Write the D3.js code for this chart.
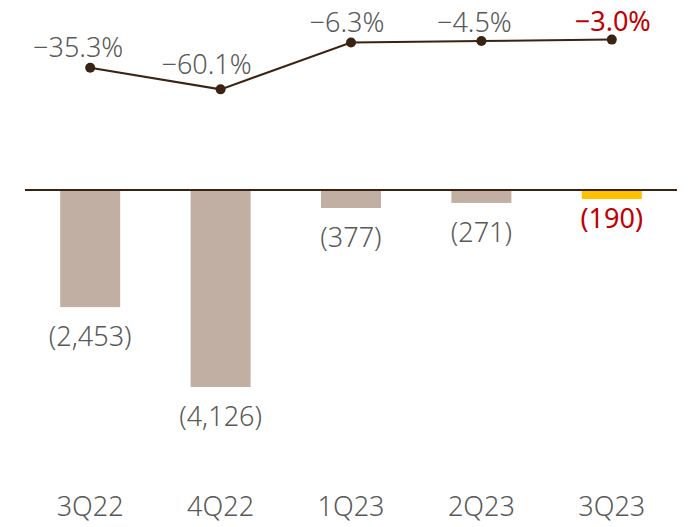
<!DOCTYPE html>
<html>
<head>
<meta charset="utf-8">
<script src="https://cdn.jsdelivr.net/npm/d3@7"></script>
<style>
  body { margin: 0; background: white; }
  text { font-family: "Noto Sans", sans-serif; font-weight: 300; }
  text.red { font-weight: 400; }
</style>
</head>
<body>
<div id="chart"></div>
<script>

// data
const quarters = ["3Q22", "4Q22", "1Q23", "2Q23", "3Q23"];
const lossValues = [-2453, -4126, -377, -271, -190];
const marginPct = [-35.3, -60.1, -6.3, -4.5, -3.0];
const lossLabels = ["(2,453)", "(4,126)", "(377)", "(271)", "(190)"];
const pctLabels = ["\u221235.3%", "\u221260.1%", "\u22126.3%", "\u22124.5%", "\u22123.0%"];

const width = 692;
const height = 527;

// small nudges for the percentage labels, as placed in the original
const pctDx = [-12, -14, -4, -7, 1];
const pctDy = [-11, -15, -10, -9, -9];

const svg = d3.select("#chart")
    .append("svg")
    .attr("width", width)
    .attr("height", height)
    .style("background-color", "white");

const x = d3.scaleBand()
    .domain(quarters)
    .range([25, 677])
    .paddingInner(0.54)
    .paddingOuter(0.27);

// bars hang down from the zero line
const yBar = d3.scaleLinear()
    .domain([-4126, 0])
    .range([387, 190]);

const yLine = d3.scaleLinear()
    .domain([-100, 0])
    .range([124.1, 37]);

const gray = "#c2afa3";
const highlight = "#ffc000";
const red = "#c00000";
const textGray = "#595959";
const brown = "#3b2314";

const last = quarters[quarters.length - 1];

svg.selectAll("rect.bar")
    .data(quarters)
    .enter()
    .append("rect")
    .attr("class", "bar")
    .attr("x", d => x(d))
    .attr("y", yBar(0))
    .attr("width", x.bandwidth())
    .attr("height", (d, i) => yBar(lossValues[i]) - yBar(0))
    .attr("fill", d => d === last ? highlight : gray);

// zero line
svg.append("line")
    .attr("x1", 25)
    .attr("x2", 677)
    .attr("y1", yBar(0))
    .attr("y2", yBar(0))
    .attr("stroke", brown)
    .attr("stroke-width", 2);

svg.selectAll("text.barlabel")
    .data(quarters)
    .enter()
    .append("text")
    .attr("class", d => d === last ? "barlabel red" : "barlabel")
    .attr("x", d => x(d) + x.bandwidth() / 2)
    .attr("y", (d, i) => yBar(lossValues[i]) + (d === last ? 29 : 39))
    .attr("text-anchor", "middle")
    .attr("font-size", "27px")
    .attr("fill", d => d === last ? red : textGray)
    .text((d, i) => lossLabels[i]);

// margin line
const line = d3.line()
    .x((d, i) => x(quarters[i]) + x.bandwidth() / 2)
    .y(d => yLine(d));

svg.append("path")
    .datum(marginPct)
    .attr("d", line)
    .attr("fill", "none")
    .attr("stroke", brown)
    .attr("stroke-width", 2);

svg.selectAll("circle.pt")
    .data(marginPct)
    .enter()
    .append("circle")
    .attr("class", "pt")
    .attr("cx", (d, i) => x(quarters[i]) + x.bandwidth() / 2)
    .attr("cy", d => yLine(d))
    .attr("r", 5)
    .attr("fill", brown);

svg.selectAll("text.pct")
    .data(marginPct)
    .enter()
    .append("text")
    .attr("class", (d, i) => i === quarters.length - 1 ? "pct red" : "pct")
    .attr("x", (d, i) => x(quarters[i]) + x.bandwidth() / 2 + pctDx[i])
    .attr("y", (d, i) => yLine(d) + pctDy[i])
    .attr("text-anchor", "middle")
    .attr("font-size", "27px")
    .attr("fill", (d, i) => i === quarters.length - 1 ? red : textGray)
    .text((d, i) => pctLabels[i]);

// category axis, no line or ticks
const xAxis = d3.axisBottom(x).tickSize(0).tickPadding(0);
const gx = svg.append("g")
    .attr("transform", "translate(0, 516)")
    .call(xAxis);
gx.select(".domain").remove();
gx.selectAll("text")
    .attr("dy", 0)
    .attr("font-family", "Noto Sans, sans-serif")
    .attr("font-size", "27px")
    .attr("fill", textGray);

</script>
</body>
</html>
